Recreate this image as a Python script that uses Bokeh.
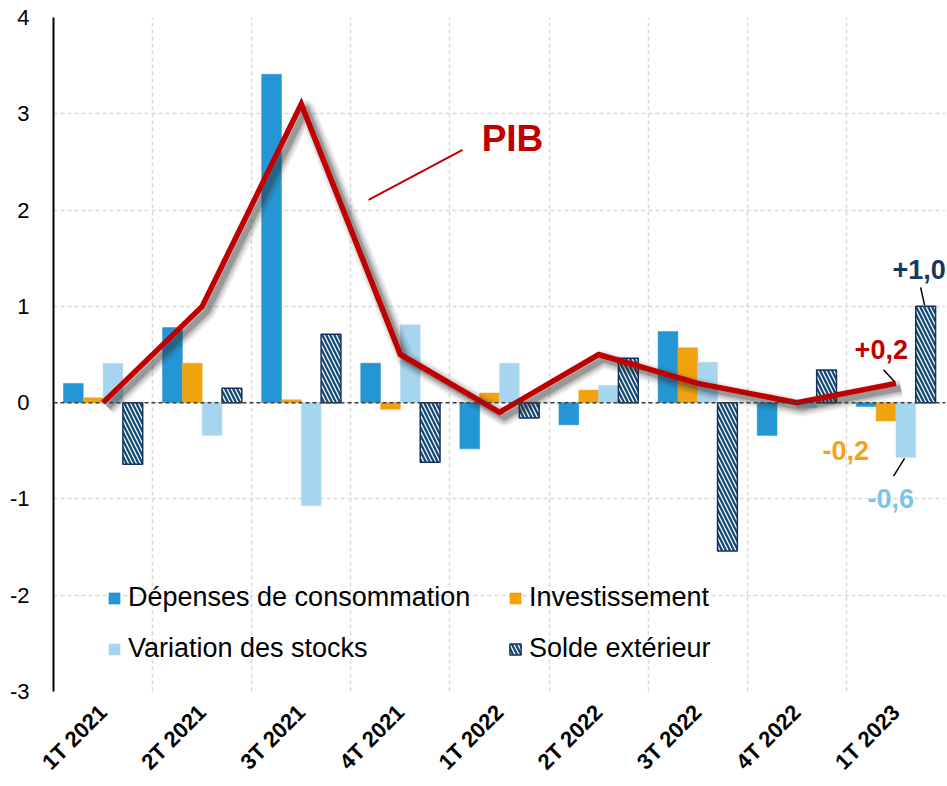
import math
from bokeh.plotting import figure
from bokeh.models import FixedTicker, Span, Legend, LegendItem
from bokeh.core.properties import value
from bokeh.embed import file_html
from bokeh.resources import INLINE

quarters = ["1T 2021", "2T 2021", "3T 2021", "4T 2021", "1T 2022",
            "2T 2022", "3T 2022", "4T 2022", "1T 2023"]
depenses = [0.20, 0.78, 3.41, 0.41, -0.48, -0.23, 0.74, -0.34, -0.04]
investissement = [0.05, 0.41, 0.03, -0.07, 0.10, 0.13, 0.57, 0.01, -0.19]
stocks = [0.41, -0.34, -1.07, 0.81, 0.41, 0.18, 0.42, -0.05, -0.57]
solde = [-0.64, 0.15, 0.71, -0.62, -0.16, 0.46, -1.54, 0.34, 1.00]
pib = [0.0, 1.0, 3.1, 0.5, -0.1, 0.5, 0.2, 0.0, 0.2]
y_ticks = [-3, -2, -1, 0, 1, 2, 3, 4]
y_labels = ["-3", "-2", "-1", "0", "1", "2", "3", "4"]

FONT = "Liberation Sans"
C_DEP = "#2396D3"
C_INV = "#F0A30F"
C_STO = "#A6D5F0"
C_SOL = "#0F4A6E"
C_SOL_LINE = "#17305E"
C_PIB = "#C00000"

n = len(quarters)
centers = [i + 0.5 for i in range(n)]

p = figure(width=947, height=786, x_range=(0, n), y_range=(-3, 4),
           output_backend="svg", toolbar_location=None,
           min_border_left=53, min_border_right=2, min_border_top=17, min_border_bottom=93,
           background_fill_color="white", border_fill_color="white")
p.outline_line_color = None

# grids
p.xgrid.ticker = FixedTicker(ticks=list(range(1, n + 1)))
p.ygrid.ticker = FixedTicker(ticks=y_ticks)
for g in (p.xgrid, p.ygrid):
    g.grid_line_color = "#D9D9D9"
    g.grid_line_dash = "4 3"
    g.grid_line_width = 1.5

# axes
p.xaxis.ticker = FixedTicker(ticks=centers)
p.xaxis.major_label_overrides = {c: q for c, q in zip(centers, quarters)}
p.xaxis.major_label_orientation = math.pi / 4
p.xaxis.axis_line_color = None
p.xaxis.major_tick_line_color = None
p.xaxis.minor_tick_line_color = None
p.xaxis.major_label_text_font = FONT
p.xaxis.major_label_text_font_style = "bold"
p.xaxis.major_label_text_font_size = "22px"
p.xaxis.major_label_text_color = "black"
p.xaxis.major_label_standoff = 11

p.yaxis.ticker = FixedTicker(ticks=y_ticks)
p.yaxis.major_label_overrides = {t: s for t, s in zip(y_ticks, y_labels)}
p.yaxis.axis_line_color = "black"
p.yaxis.axis_line_width = 2
p.yaxis.major_tick_line_color = None
p.yaxis.minor_tick_line_color = None
p.yaxis.major_label_text_font = FONT
p.yaxis.major_label_text_font_size = "22px"
p.yaxis.major_label_text_color = "black"
p.yaxis.major_label_standoff = 18

# bars
w = 0.2
r_dep = p.vbar(x=[c - 0.3 for c in centers], top=depenses, bottom=0, width=w,
               fill_color=C_DEP, line_color=C_DEP, line_width=0.5)
r_inv = p.vbar(x=[c - 0.1 for c in centers], top=investissement, bottom=0, width=w,
               fill_color=C_INV, line_color=C_INV, line_width=0.5)
r_sto = p.vbar(x=[c + 0.1 for c in centers], top=stocks, bottom=0, width=w,
               fill_color=C_STO, line_color="#B9DEF3", line_width=0.5)
r_sol = p.vbar(x=[c + 0.3 for c in centers], top=solde, bottom=0, width=w,
               fill_color="white", line_color=C_SOL_LINE, line_width=1.5,
               hatch_pattern="\\", hatch_color=C_SOL, hatch_scale=8, hatch_weight=2.3)

# zero line
p.add_layout(Span(location=0, dimension="width", line_color="#404040",
                  line_dash="4 3", line_width=1.5))

# PIB line with soft shadow
for off, lw, a in [(0.05, 18, 0.08), (0.05, 14, 0.11), (0.05, 10, 0.15), (0.05, 6, 0.27)]:
    p.line([c + off for c in centers], [v - off for v in pib],
           line_color="#303030", line_width=lw, line_alpha=a, line_join="round")
p.line(centers, pib, line_color=C_PIB, line_width=5.5, line_join="miter")

# annotations
p.line([3.179, 4.127], [2.107, 2.624], line_color=C_PIB, line_width=2)
p.text(x=[4.32], y=[2.748], text=["PIB"], text_font=value(FONT), text_font_style="bold",
       text_font_size="37px", text_color=C_PIB, text_baseline="middle", text_align="left")

p.line([8.749, 8.789], [1.198, 1.012], line_color="black", line_width=1.5)
p.line([8.375, 8.486], [0.341, 0.217], line_color="black", line_width=1.5)
p.line([8.587, 8.476], [-0.579, -0.764], line_color="black", line_width=1.5)

ann_x = [8.466, 8.083, 7.76, 8.214]
ann_y = [1.384, 0.548, -0.496, -0.992]
ann_t = ["+1,0", "+0,2", "-0,2", "-0,6"]
ann_c = ["#17375E", C_PIB, "#EFA21A", "#7CC4EA"]
p.text(x=ann_x, y=ann_y, text=ann_t, text_color=ann_c, text_font=value(FONT),
       text_font_style="bold", text_font_size="27px", text_baseline="middle",
       text_align="left")

legend = Legend(items=[
    LegendItem(label="Dépenses de consommation", renderers=[r_dep]),
    LegendItem(label="Investissement", renderers=[r_inv]),
    LegendItem(label="Variation des stocks", renderers=[r_sto]),
    LegendItem(label="Solde extérieur", renderers=[r_sol]),
], ncols=2, location=(54, 27), orientation="horizontal")
legend.background_fill_alpha = 0
legend.border_line_color = None
legend.padding = 0
legend.margin = 0
legend.spacing = 20
legend.glyph_width = 14
legend.glyph_height = 14
legend.label_standoff = 7
legend.label_width = 360
legend.label_height = 30
legend.label_text_font = FONT
legend.label_text_font_size = "27px"
legend.label_text_color = "black"
p.add_layout(legend, "center")

open("out.html", "w").write(file_html(p, INLINE))
